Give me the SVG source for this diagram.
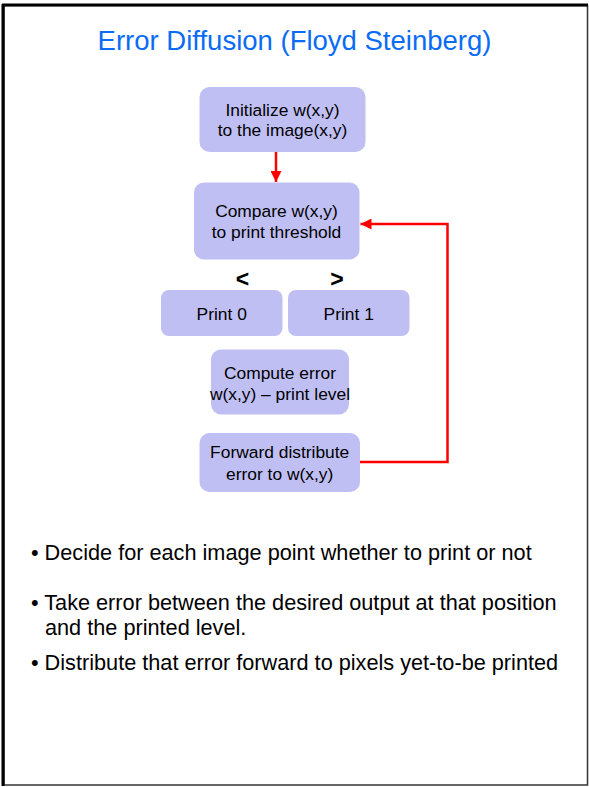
<svg xmlns="http://www.w3.org/2000/svg" width="589" height="787" viewBox="0 0 589 787">
  <style>
    .node rect { fill: #C0BFF4; }
    .node text { font-family: "Liberation Sans", Arial, sans-serif; font-size: 17.4px; fill: #000; text-anchor: middle; }
    .title { font-family: "Liberation Sans", Arial, sans-serif; font-size: 27.5px; fill: #0A6CF5; text-anchor: middle; }
    .bullet { font-family: "Liberation Sans", Arial, sans-serif; font-size: 21.7px; fill: #000; }
    .cmp { font-family: "Liberation Sans", Arial, sans-serif; font-size: 23px; font-weight: bold; fill: #000; text-anchor: middle; }
    .link { fill: none; stroke: #FF0000; stroke-width: 2.5; }
  </style>
  <defs>
    <marker id="arrow" markerUnits="userSpaceOnUse" markerWidth="11" markerHeight="11" viewBox="0 0 10 10" refX="10" refY="5" orient="auto">
      <path d="M0,0 L10,5 L0,10 Z" fill="#FF0000"/>
    </marker>
  </defs>

  <!-- page frame -->
  <rect x="0" y="0" width="589" height="787" fill="#FFFFFF"/>
  <rect x="4" y="5.5" width="583.5" height="779.5" fill="none" stroke="#333333" stroke-width="1.5"/>
  <line x1="3" y1="4" x2="3" y2="786" stroke="#000" stroke-width="3"/>
  <line x1="2" y1="5" x2="588" y2="5" stroke="#000" stroke-width="3"/>

  <text class="title" x="294.5" y="50">Error Diffusion (Floyd Steinberg)</text>

  <!-- connectors -->
  <g id="connectors">
    <line class="link" x1="276" y1="152" x2="276" y2="182" stroke-width="3" marker-end="url(#arrow)"/>
    <polyline class="link" points="360,462 447.5,462 447.5,224 360.5,224" marker-end="url(#arrow)"/>
  </g>

  <g id="init" class="node">
    <rect x="199.5" y="87" width="166" height="65" rx="10"/>
    <text x="282.5" y="116">Initialize w(x,y)</text>
    <text x="282.5" y="136">to the image(x,y)</text>
  </g>

  <g id="compare" class="node">
    <rect x="194" y="182.5" width="165.5" height="77" rx="10"/>
    <text x="276.5" y="217">Compare w(x,y)</text>
    <text x="276.5" y="237.5">to print threshold</text>
  </g>

  <text class="cmp" x="242.5" y="287">&lt;</text>
  <text class="cmp" x="337" y="287">&gt;</text>

  <g id="print0" class="node">
    <rect x="161" y="290" width="121.5" height="46" rx="8"/>
    <text x="221.7" y="320">Print 0</text>
  </g>

  <g id="print1" class="node">
    <rect x="288" y="290" width="121.5" height="46" rx="8"/>
    <text x="348.7" y="320">Print 1</text>
  </g>

  <g id="error" class="node">
    <rect x="211" y="349.5" width="138" height="65" rx="10"/>
    <text x="280" y="378.5">Compute error</text>
    <text x="280" y="399.5">w(x,y) – print level</text>
  </g>

  <g id="distribute" class="node">
    <rect x="199.5" y="433" width="160.5" height="59" rx="10"/>
    <text x="279.7" y="457.5">Forward distribute</text>
    <text x="279.7" y="479.5">error to w(x,y)</text>
  </g>

  <!-- notes -->
  <text class="bullet" x="31" y="560">• Decide for each image point whether to print or not</text>
  <text class="bullet" x="31" y="610">• Take error between the desired output at that position</text>
  <text class="bullet" x="45" y="635">and the printed level.</text>
  <text class="bullet" x="31" y="670">• Distribute that error forward to pixels yet-to-be printed</text>
</svg>
